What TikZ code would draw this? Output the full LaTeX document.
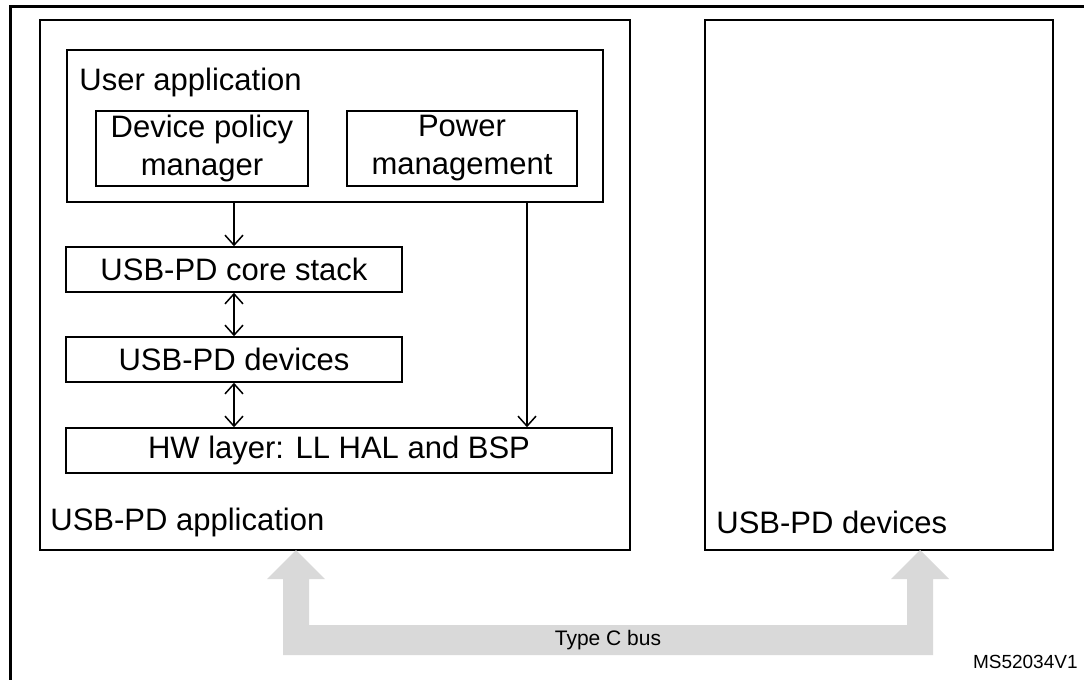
\documentclass[tikz,border=0pt]{standalone}
\usepackage{fontspec}
\setmainfont{Liberation Sans}
\usetikzlibrary{arrows.meta}

\begin{document}
\begin{tikzpicture}[x = 0.5pt, y = -0.5pt,
    frame/.style = {line width = 1.5pt},
    bigbox/.style = {draw, line width = 1pt, inner sep = 0pt},
    box/.style = {draw, line width = 0.75pt, inner sep = 0pt, align = center,
                  font = \fontsize{15.5}{19}\selectfont},
    txt/.style = {inner sep = 0pt, font = \fontsize{15.5}{19}\selectfont},
    link/.style = {line width = 0.75pt, -{Straight Barb[length = 5pt, width = 9pt]}},
    both/.style = {line width = 0.75pt,
                   {Straight Barb[length = 5pt, width = 9pt]}-{Straight Barb[length = 5pt, width = 9pt]}},
    bus/.style = {fill = black!15, draw = none}]
  \useasboundingbox (0, 0) rectangle (1084, 680);
  % outer frame
  \draw[frame] (1084, 6) -- (10, 6) -- (10, 680);
  % the two sides
  \node [bigbox, minimum width = 295pt, minimum height = 265pt] (app) at (335, 285){};
  \node [bigbox, minimum width = 174pt, minimum height = 265pt] (devbox) at (879, 285){};
  \node [txt, anchor = west] (applabel) at (50, 522){USB-PD application};
  \node [txt, anchor = west] (devlabel) at (716, 522){USB-PD devices};
  % user application
  \node [bigbox, line width = 0.75pt, minimum width = 268pt, minimum height = 76pt] (user) at (335, 126){};
  \node [txt, anchor = west] (userlabel) at (79, 82){User application};
  \node [box, minimum width = 106pt, minimum height = 37.5pt] (dpm) at (202, 148.5){Device policy\\manager};
  \node [box, minimum width = 115pt, minimum height = 37.5pt] (pm) at (462, 148.5){Power\\management};
  % stack
  \node [box, minimum width = 168pt, minimum height = 22.5pt] (core) at (234, 269.5){USB-PD core stack};
  \node [box, minimum width = 168pt, minimum height = 22.5pt] (pddev) at (234, 359.5){USB-PD devices};
  \node [box, minimum width = 273pt, minimum height = 22.5pt] (hw) at (339, 450.5){HW layer: LL HAL and BSP};
  \coordinate (pmdrop) at (527, 300);
  \draw [link] (user.south -| core.north) -- (core.north);
  \draw [both] (core.south) -- (pddev.north);
  \draw [both] (pddev.south) -- (pddev.south |- hw.north);
  \draw [link] (user.south -| pmdrop) -- (pmdrop |- hw.north);
  % type C bus
  \fill [bus] (296, 550) -- (325, 579) -- (309, 579) -- (309, 625) -- (907, 625) -- (907, 579)
    -- (891, 579) -- (920, 550) -- (949, 579) -- (933, 579) -- (933, 655) -- (283, 655)
    -- (283, 579) -- (267, 579) -- cycle;
  \node [inner sep = 0pt, font = \fontsize{10.5}{12}\selectfont] (buslabel) at (608, 640){Type C bus};
  \node [inner sep = 0pt, anchor = east, font = \fontsize{9.5}{11}\selectfont] (ref) at (1078, 662){MS52034V1};
\end{tikzpicture}
\end{document}
